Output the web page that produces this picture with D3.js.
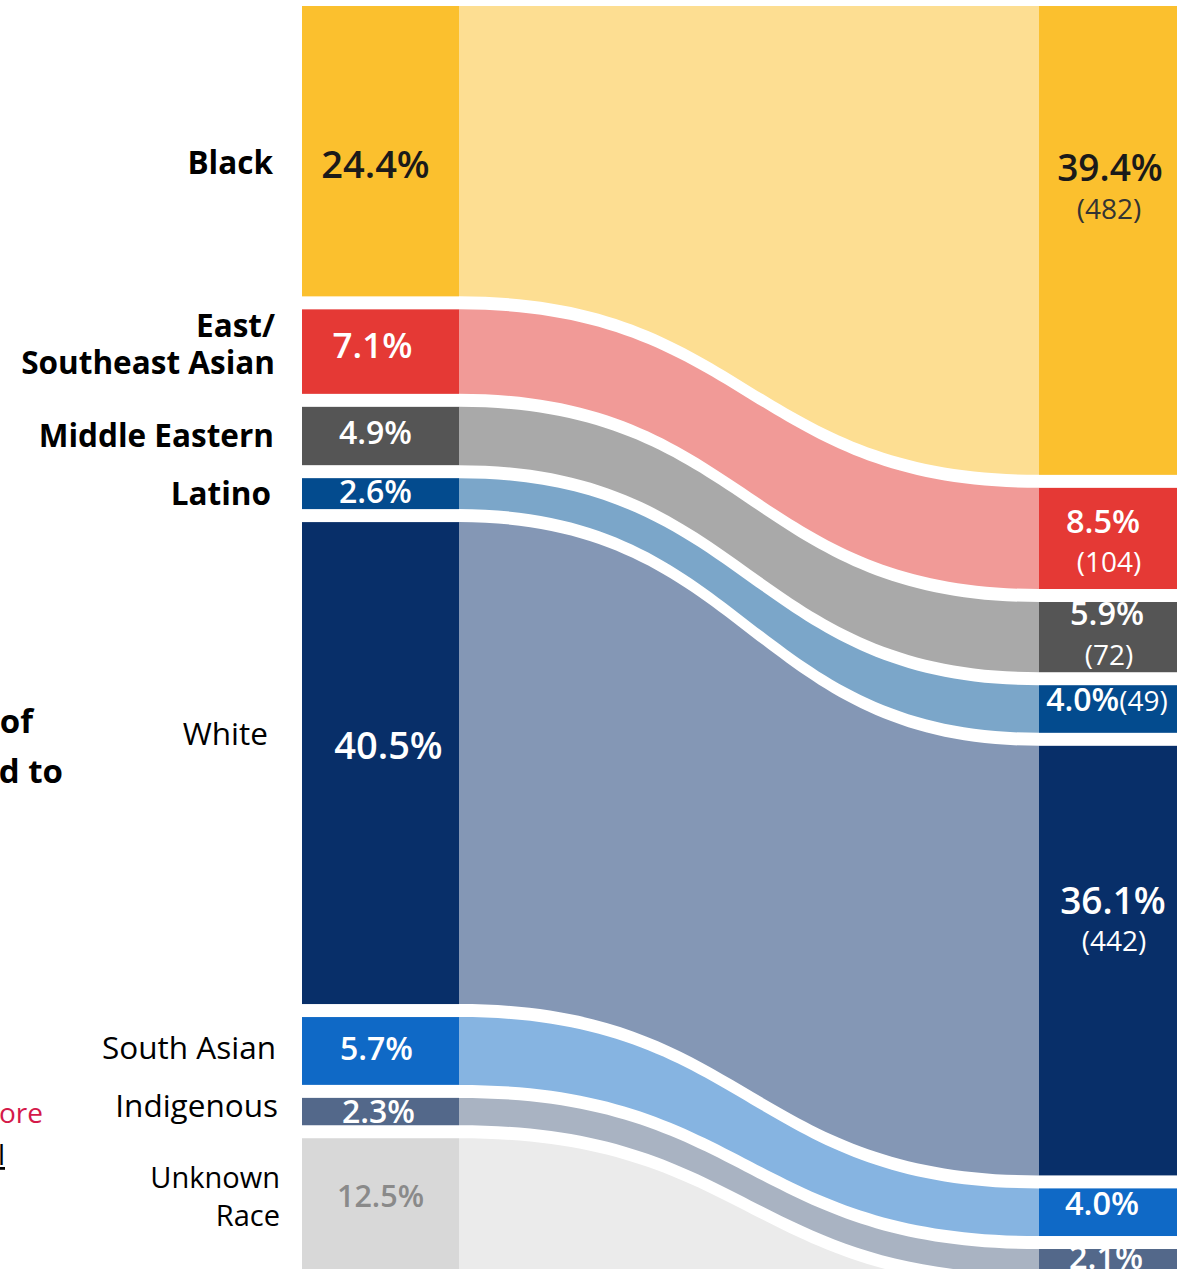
<!DOCTYPE html>
<html><head><meta charset="utf-8">
<script src="https://cdn.jsdelivr.net/npm/d3@7"></script>
<style>
html,body{margin:0;padding:0;background:#fff;overflow:hidden}
text{font-family:"Open Sans","Noto Sans",sans-serif}
</style></head>
<body>
<svg id="c" width="1180" height="1269"></svg>
<script>
// ---- data ----
const categories = ["Black","East/\nSoutheast Asian","Middle Eastern","Latino","White","South Asian","Indigenous","Unknown\nRace"];
const leftPct  = [24.4, 7.1, 4.9, 2.6, 40.5, 5.7, 2.3, 12.5];
const rightPct = [39.4, 8.5, 5.9, 4.0, 36.1, 4.0, 2.1, 12.5];
const rightCount = [482, 104, 72, 49, 442, null, null, null];
const showRight = [true, true, true, true, true, true, true, false];
const boldLabel = [true, true, true, true, false, false, false, false];
const nodeColors = ["#fbc02e","#e53935","#555555","#034b8e","#082f69","#0f69c6","#53688a","#d8d8d8"];
const linkColors = ["#fdde92","#f19a97","#a9a9a9","#7ba6c9","#8497b5","#86b4e1","#a9b3c2","#ebebeb"];

// ---- layout ----
const svg = d3.select("#c");
const y = d3.scaleLinear().domain([0,100]).range([0,1190]);
const top0 = 6, gap = 13;
const xL0 = 302, xL1 = 459, xR0 = 1039, xR1 = 1177;

function stack(vals){
  let acc = top0;
  return vals.map(v=>{const s=acc, e=acc+y(v); acc=e+gap; return {y0:s,y1:e};});
}
const L = stack(leftPct), R = stack(rightPct);

// links
const gLinks = svg.append("g");
categories.forEach((c,i)=>{
  const p = d3.path(), xm = (xL1+xR0)/2;
  p.moveTo(xL1, L[i].y0);
  p.bezierCurveTo(xm, L[i].y0, xm, R[i].y0, xR0, R[i].y0);
  p.lineTo(xR0, R[i].y1);
  p.bezierCurveTo(xm, R[i].y1, xm, L[i].y1, xL1, L[i].y1);
  p.closePath();
  gLinks.append("path").attr("d", p.toString()).attr("fill", linkColors[i]);
});

// nodes
const gNodes = svg.append("g");
categories.forEach((c,i)=>{
  gNodes.append("rect").attr("x",xL0).attr("y",L[i].y0).attr("width",xL1-xL0).attr("height",L[i].y1-L[i].y0).attr("fill",nodeColors[i]);
  if(showRight[i]) gNodes.append("rect").attr("x",xR0).attr("y",R[i].y0).attr("width",xR1-xR0).attr("height",R[i].y1-R[i].y0).attr("fill",nodeColors[i]);
});

// label placement tweaks (visual)
const nudgeCat = [12,-7,0,0,-29,-3,-6,-16];
const catRight = [273,275,274,271,268,276,278,280];
const catSize = [31.5,31.5,31.5,31.5,31.5,31.5,31.5,29];
const nudgeVal = [14,-6,-3,-2,-17,-2,0,-16];
const valDx = [-5,-8,-5,-5,8,-4,-2,0];
const valSize = [38,35,32,32,38,32,32,30.5];

// category labels (one text per line)
categories.forEach((c,i)=>{
  const lines = c.split("\n");
  const cy = (L[i].y0+L[i].y1)/2 + nudgeCat[i];
  const lh = 37.5;
  lines.forEach((ln,k)=>{
    svg.append("text").attr("text-anchor","end")
      .attr("font-size", catSize[i]).attr("font-weight", boldLabel[i]?700:400).attr("fill","#000")
      .attr("x", catRight[i]).attr("y", cy + (k-(lines.length-1)/2)*lh).attr("dy","0.35em").text(ln);
  });
});

// left value labels
leftPct.forEach((v,i)=>{
  svg.append("text").attr("x",(xL0+xL1)/2 + valDx[i]).attr("y",(L[i].y0+L[i].y1)/2 + nudgeVal[i]).attr("dy","0.35em")
    .attr("text-anchor","middle").attr("font-size", valSize[i]).attr("font-weight",600)
    .attr("fill", i===0?"#1a1a1a":(i===7?"#8a8a8a":"#fff"))
    .text(v.toFixed(1)+"%");
});

// right value labels
const rNudge = [-72,-17,-23,-4,-60,-9,-4];
const rDx = [2,-5,-1,0,5,-6,-2];
const rSize = [37,32.5,32.5,32,37,32.5,32.5];
rightPct.forEach((v,i)=>{
  if(!showRight[i]) return;
  const cx = (xR0+xR1)/2 + rDx[i], cy = (R[i].y0+R[i].y1)/2 + rNudge[i];
  const col = i===0?"#1a1a1a":"#fff";
  if(i===3){
    const t = svg.append("text").attr("x",cx-1).attr("y",cy).attr("dy","0.35em").attr("text-anchor","middle").attr("fill",col);
    t.append("tspan").attr("font-size",32).attr("font-weight",600).text(v.toFixed(1)+"%");
    t.append("tspan").attr("font-size",28).attr("font-weight",400).text("("+rightCount[i]+")");
    return;
  }
  svg.append("text").attr("x",cx).attr("y",cy).attr("dy","0.35em").attr("text-anchor","middle")
    .attr("font-size", rSize[i]).attr("font-weight",600).attr("fill",col).text(v.toFixed(1)+"%");
  if(rightCount[i]!=null){
    svg.append("text").attr("x",(xR0+xR1)/2 + (i===4?6:1)).attr("y",cy+41).attr("dy","0.35em").attr("text-anchor","middle")
      .attr("font-size",28).attr("font-weight",400).attr("fill", i===0?"#333":"#fff").text("("+rightCount[i]+")");
  }
});

// clipped fragments of surrounding text at left edge
svg.append("text").attr("x",33).attr("y",733).attr("text-anchor","end").attr("font-size",33).attr("font-weight",700).text("of");
svg.append("text").attr("x",63).attr("y",783).attr("text-anchor","end").attr("font-size",33).attr("font-weight",700).text("d to");
svg.append("text").attr("x",43).attr("y",1123).attr("text-anchor","end").attr("font-size",28).attr("fill","#d4194a").text("ore");
svg.append("text").attr("x",5).attr("y",1165).attr("text-anchor","end").attr("font-size",28).attr("text-decoration","underline").text("l");
</script>
</body></html>
